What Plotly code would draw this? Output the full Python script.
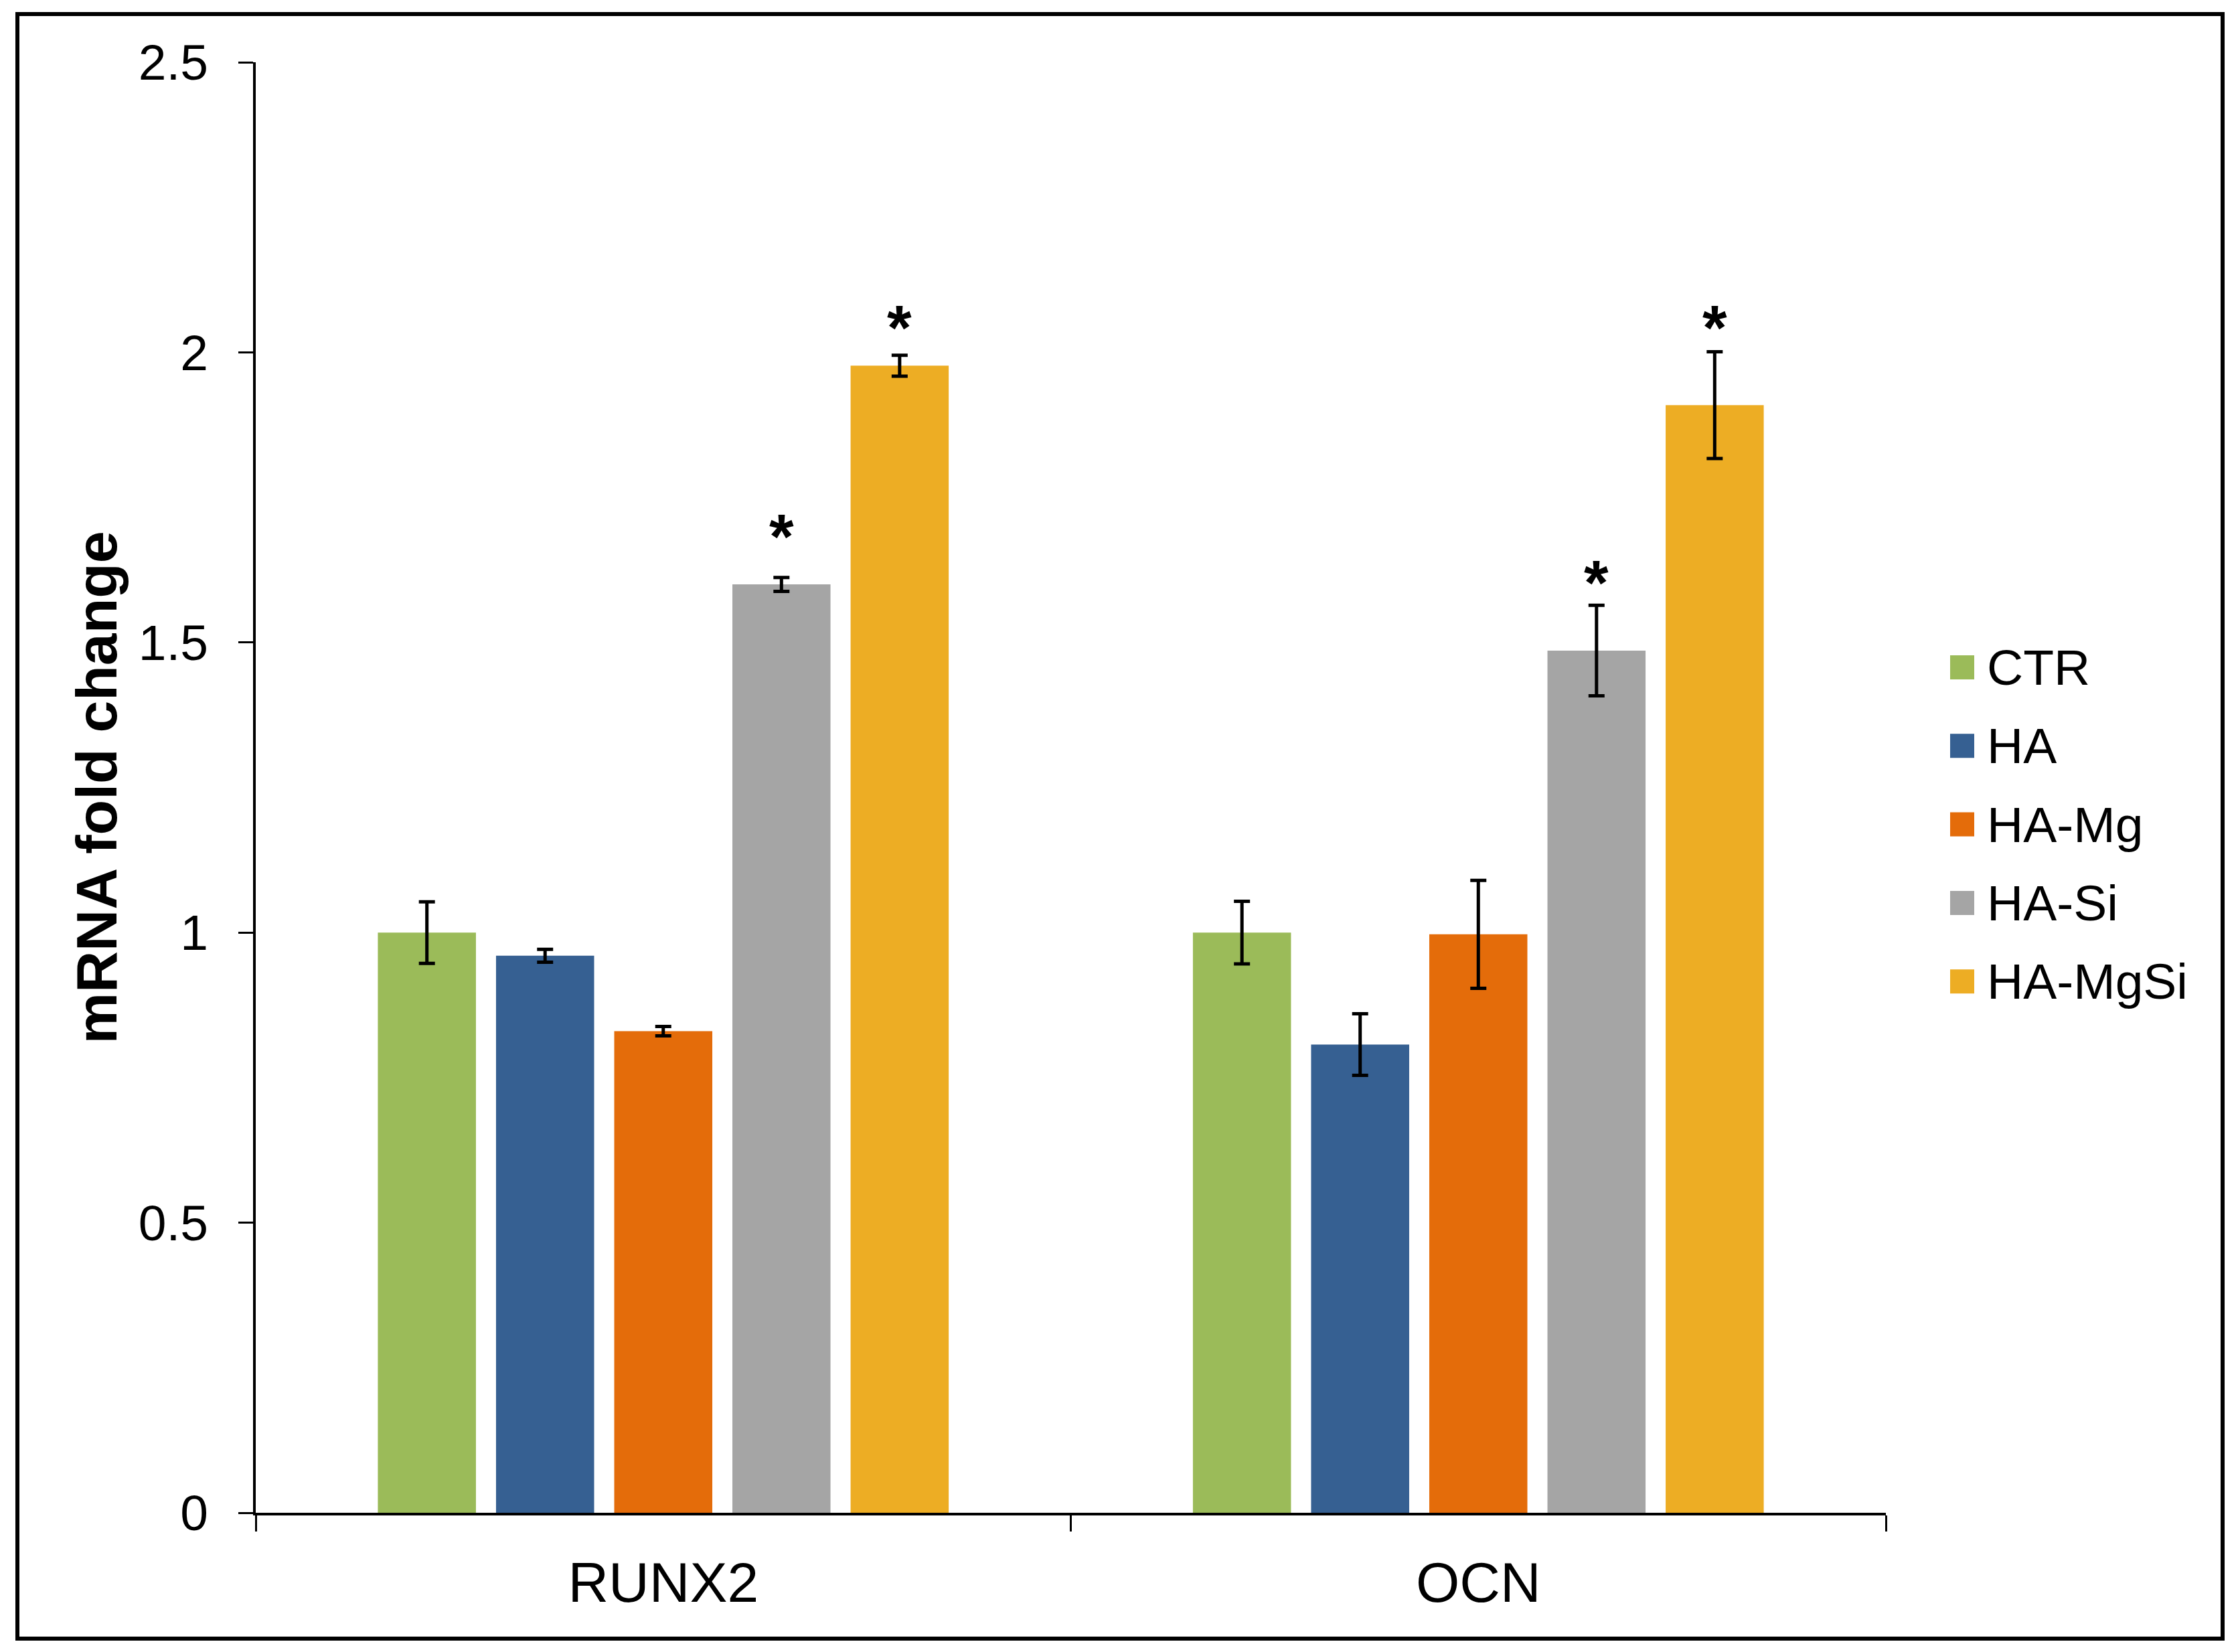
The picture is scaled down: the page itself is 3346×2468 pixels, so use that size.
import plotly.graph_objects as go

# ---------------- data ----------------
genes = ["RUNX2", "OCN"]
groups = ["CTR", "HA", "HA-Mg", "HA-Si", "HA-MgSi"]
colors = ["#9BBB59", "#366092", "#E46C0A", "#A5A5A5", "#EDAD24"]

ctr_vals = [1.00, 1.00]
ha_vals = [0.96, 0.807]
hamg_vals = [0.83, 0.997]
hasi_vals = [1.60, 1.486]
hamgsi_vals = [1.977, 1.909]

ctr_err = [0.053, 0.054]
ha_err = [0.011, 0.053]
hamg_err = [0.008, 0.093]
hasi_err = [0.012, 0.078]
hamgsi_err = [0.018, 0.092]

# significance marks: group index -> star height (data units) per gene
star_groups = [3, 4]
star_y_runx2 = [1.70, 2.06]
star_y_ocn = [1.62, 2.06]

y_ticks = [0, 0.5, 1, 1.5, 2, 2.5]
y_ticklabels = ["0", "0.5", "1", "1.5", "2", "2.5"]

values = [ctr_vals, ha_vals, hamg_vals, hasi_vals, hamgsi_vals]
errors = [ctr_err, ha_err, hamg_err, hasi_err, hamgsi_err]
star_y = [star_y_runx2, star_y_ocn]

# ---------------- layout geometry ----------------
PAGE_W, PAGE_H = 3346, 2468
BODY = 8  # default browser body margin
W, H = PAGE_W - 2 * BODY, PAGE_H - 2 * BODY
# target plot area in page pixels
AX_L, AX_R, AX_T, AX_B = 382, 2817, 93, 2260
ML, MT = AX_L - BODY, AX_T - BODY
MR, MB = W - (AX_R - BODY), H - (AX_B - BODY)
PW, PH = W - ML - MR, H - MT - MB
BARGAP = 0.275
BARGROUPGAP = 0.17
FONT = "Liberation Sans, Arial, sans-serif"


def px_x(px):  # page px -> paper
    return (px - AX_L) / PW


def px_y(py):
    return (AX_B - py) / PH


fig = go.Figure()
for name, col, vals, errs in zip(groups, colors, values, errors):
    fig.add_trace(go.Bar(
        name=name, x=genes, y=vals,
        marker=dict(color=col, line=dict(width=0)),
        error_y=dict(type="data", array=errs, visible=True,
                     color="black", thickness=5, width=12),
        showlegend=False,
    ))

# asterisks
slot = (1 - BARGAP) / len(groups)
annotations = []
for gi, gene in enumerate(genes):
    for k, j in enumerate(star_groups):
        annotations.append(dict(
            x=gi + (j - (len(groups) - 1) / 2) * slot, y=star_y[gi][k],
            xref="x", yref="y", text="<b>*</b>", showarrow=False,
            xanchor="center", yanchor="middle", yshift=-15,
            font=dict(family=FONT, size=94, color="black"),
        ))

# manual legend (large square swatches)
shapes = []
leg_x0, leg_sw, leg_y0, leg_dy = 2913, 36, 997, 117.3
for i, (name, col) in enumerate(zip(groups, colors)):
    yc = leg_y0 + i * leg_dy
    shapes.append(dict(type="rect", xref="paper", yref="paper",
                       x0=px_x(leg_x0), x1=px_x(leg_x0 + leg_sw),
                       y0=px_y(yc + leg_sw / 2), y1=px_y(yc - leg_sw / 2),
                       fillcolor=col, line=dict(width=0)))
    annotations.append(dict(
        x=px_x(leg_x0 + leg_sw + 17), y=px_y(yc), xref="paper", yref="paper",
        text=name, showarrow=False, xanchor="left", yanchor="middle",
        font=dict(family=FONT, size=75, color="black"),
    ))

# outer frame
shapes.append(dict(type="rect", xref="paper", yref="paper",
                   x0=px_x(26), x1=px_x(3320), y0=px_y(2448), y1=px_y(21),
                   line=dict(color="black", width=6), fillcolor="rgba(0,0,0,0)",
                   layer="above"))

fig.update_layout(
    width=W, height=H,
    margin=dict(l=ML, r=MR, t=MT, b=MB, autoexpand=False),
    paper_bgcolor="white", plot_bgcolor="white",
    barmode="group", bargap=BARGAP, bargroupgap=BARGROUPGAP,
    font=dict(family=FONT, color="black"),
    showlegend=False,
    annotations=annotations, shapes=shapes,
)
fig.update_xaxes(
    type="category", range=[-0.5, len(genes) - 0.5],
    showline=True, linecolor="black", linewidth=4,
    ticks="outside", tickson="boundaries", ticklen=24, tickwidth=3,
    tickcolor="black", showgrid=False, zeroline=False,
    tickfont=dict(family=FONT, size=84, color="black"),
    ticklabelstandoff=28,
)
fig.update_yaxes(
    range=[0, 2.5], tickvals=y_ticks, ticktext=y_ticklabels,
    showline=True, linecolor="black", linewidth=4,
    ticks="outside", ticklen=22, tickwidth=3, tickcolor="black",
    showgrid=False, zeroline=False,
    tickfont=dict(family=FONT, size=75, color="black"),
    ticklabelstandoff=30,
    title=dict(text="<b>mRNA fold change</b>", standoff=5,
               font=dict(family=FONT, size=86, color="black")),
)

fig.write_html("out.html")
